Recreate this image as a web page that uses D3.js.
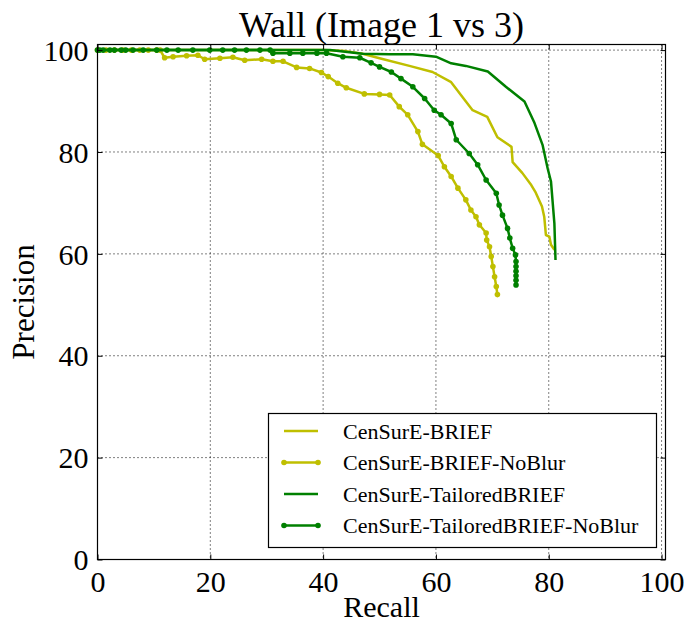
<!DOCTYPE html>
<html>
<head>
<meta charset="utf-8">
<script src="https://cdn.jsdelivr.net/npm/d3@7"></script>
<style>
  html, body { margin: 0; padding: 0; background: #fff; }
  svg { display: block; }
</style>
</head>
<body>
<svg id="chart" width="686" height="623"></svg>
<script>
// Precision / recall curves for the wall sequence (image 1 vs 3)
const seriesNames = [
  "CenSurE-BRIEF",
  "CenSurE-BRIEF-NoBlur",
  "CenSurE-TailoredBRIEF",
  "CenSurE-TailoredBRIEF-NoBlur"
];
const seriesColors = ["#bfbf00", "#bfbf00", "#008000", "#008000"];
const seriesMarkers = [false, true, false, true];

const briefRecall = [0, 40, 44, 47, 50, 55.3, 59.4, 62.7, 64.7, 66.5, 69.1, 70.9, 73.4, 73.6, 75.3, 76.9, 77.7, 78.8, 79.2, 79.5, 80.1, 80.4, 81.0];
const briefPrecision = [100, 100, 99.8, 99.3, 98.4, 96.9, 95.7, 93.7, 90.8, 88.2, 86.9, 82.9, 81.0, 78.0, 75.9, 73.5, 72.0, 69.3, 67.3, 63.7, 63.4, 61.8, 60.8];

const briefNoBlurRecall = [0, 1.5, 3, 4.5, 6, 7.5, 9, 10.5, 11.1, 11.9, 13.4, 15.8, 17.8, 19.0, 21.7, 24.0, 26.1, 29.1, 31.1, 32.9, 35.3, 37.6, 39.7, 40.9, 42.6, 44.1, 47.3, 50.0, 51.8, 53.5, 55.0, 56.8, 57.6, 60.4, 61.5, 62.7, 63.9, 65.3, 66.2, 67.1, 67.7, 68.9, 69.0, 69.5, 69.8, 70.1, 70.4, 70.7, 70.9];
const briefNoBlurPrecision = [100, 100, 100, 100, 100, 100, 100, 100, 100, 98.5, 98.7, 98.9, 99.0, 98.2, 98.4, 98.6, 98.0, 98.2, 97.8, 97.8, 96.6, 96.4, 95.6, 94.8, 93.5, 92.6, 91.4, 91.3, 91.2, 88.9, 87.3, 84.0, 81.5, 79.3, 77.1, 75.2, 72.9, 70.6, 68.6, 67.3, 65.7, 64.1, 62.7, 61.4, 59.5, 57.5, 55.5, 53.6, 52.0];

const tailoredRecall = [0, 41.2, 47.0, 51.8, 55.9, 60.0, 62.7, 65.3, 69.2, 72.4, 75.7, 77.4, 78.9, 79.8, 80.4, 81.0, 81.2];
const tailoredPrecision = [100, 100, 99.3, 99.2, 99.2, 98.7, 97.4, 96.9, 95.8, 92.8, 89.9, 85.9, 81.4, 76.8, 74.2, 66.0, 58.8];

const tailoredNoBlurRecall = [0, 0.4, 1, 2.2, 3, 4.2, 5, 6.3, 8.1, 10.5, 12.3, 14.3, 16.9, 19.9, 22.2, 24.3, 26.4, 28.8, 30.6, 31.1, 34.1, 36.4, 38.9, 40.6, 43.5, 46.5, 48.5, 50.0, 52.1, 53.8, 55.9, 58.0, 59.7, 60.9, 62.7, 63.6, 65.9, 67.4, 68.9, 70.7, 71.2, 71.8, 72.7, 73.1, 73.6, 74.1, 74.2, 74.2, 74.2, 74.2, 74.2, 74.2];
const tailoredNoBlurPrecision = [100, 100, 100, 100, 100, 100, 100, 100, 100, 100, 100, 100, 100, 100, 100, 100, 100, 100, 100, 99.4, 99.4, 99.4, 99.4, 99.4, 98.7, 98.5, 97.5, 96.7, 95.7, 94.4, 92.8, 90.5, 88.2, 87.3, 85.6, 82.4, 79.7, 77.5, 74.5, 71.9, 69.6, 67.6, 65.0, 63.1, 61.1, 59.8, 58.5, 57.5, 56.6, 55.7, 54.8, 53.9];

const xTicks = [0, 20, 40, 60, 80, 100];
const yTicks = [0, 20, 40, 60, 80, 100];

const serif = "'Liberation Serif', 'Times New Roman', Times, 'DejaVu Serif', serif";

const series = [
  { recall: briefRecall, precision: briefPrecision },
  { recall: briefNoBlurRecall, precision: briefNoBlurPrecision },
  { recall: tailoredRecall, precision: tailoredPrecision },
  { recall: tailoredNoBlurRecall, precision: tailoredNoBlurPrecision }
].map((s, i) => ({
  name: seriesNames[i],
  color: seriesColors[i],
  markers: seriesMarkers[i],
  points: s.recall.map((r, j) => [r, s.precision[j]])
}));

const svg = d3.select("#chart");
const plotLeft = 97.5, plotRight = 665.5, plotTop = 44.5, plotBottom = 559.5;
const lineWidth = 2.5, markerRadius = 2.8;

const x = d3.scaleLinear().domain([0, 100.7]).range([plotLeft, plotRight]);
const y = d3.scaleLinear().domain([0, 101.1]).range([plotBottom, plotTop]);

// dotted grid
const grid = svg.append("g");
xTicks.forEach(t => {
  grid.append("line")
    .attr("x1", x(t)).attr("x2", x(t)).attr("y1", plotTop).attr("y2", plotBottom)
    .attr("stroke", "#000").attr("stroke-width", 1).attr("stroke-dasharray", "1,3");
});
yTicks.forEach(t => {
  grid.append("line")
    .attr("x1", plotLeft).attr("x2", plotRight).attr("y1", y(t)).attr("y2", y(t))
    .attr("stroke", "#000").attr("stroke-width", 1).attr("stroke-dasharray", "1,3");
});

// curves
const plot = svg.append("g");
const line = d3.line().x(d => x(d[0])).y(d => y(d[1]));
series.forEach(s => {
  plot.append("path")
    .datum(s.points)
    .attr("d", line)
    .attr("fill", "none")
    .attr("stroke", s.color)
    .attr("stroke-width", lineWidth)
    .attr("stroke-linejoin", "round");
  if (s.markers) {
    plot.selectAll(null)
      .data(s.points)
      .enter().append("circle")
      .attr("cx", d => x(d[0]))
      .attr("cy", d => y(d[1]))
      .attr("r", markerRadius)
      .attr("fill", s.color);
  }
});

// axes with inward ticks on all four sides
const tickLen = 5;
const axBottom = svg.append("g").attr("transform", `translate(0,${plotBottom})`)
  .call(d3.axisBottom(x).tickValues(xTicks).tickSize(-tickLen).tickPadding(10).tickFormat(d3.format("d")));
const axTop = svg.append("g").attr("transform", `translate(0,${plotTop})`)
  .call(d3.axisTop(x).tickValues(xTicks).tickSize(-tickLen).tickFormat(""));
const axLeft = svg.append("g").attr("transform", `translate(${plotLeft},0)`)
  .call(d3.axisLeft(y).tickValues(yTicks).tickSize(-tickLen).tickPadding(9).tickFormat(d3.format("d")));
const axRight = svg.append("g").attr("transform", `translate(${plotRight},0)`)
  .call(d3.axisRight(y).tickValues(yTicks).tickSize(-tickLen).tickFormat(""));

[axBottom, axTop, axLeft, axRight].forEach(a => {
  a.attr("font-family", serif);
  a.select(".domain").remove();
  a.selectAll(".tick line").attr("stroke", "#000").attr("stroke-width", 1);
  a.selectAll("text").attr("font-family", serif).attr("font-size", 30).attr("fill", "#000");
});
axBottom.selectAll("text").attr("dy", "0.76em");
axLeft.selectAll("text").attr("dy", "0.34em");

// frame
svg.append("rect")
  .attr("x", plotLeft).attr("y", plotTop)
  .attr("width", plotRight - plotLeft).attr("height", plotBottom - plotTop)
  .attr("fill", "none").attr("stroke", "#000").attr("stroke-width", 1.2);

// title and axis labels
svg.append("text")
  .attr("x", (plotLeft + plotRight) / 2).attr("y", 37)
  .attr("text-anchor", "middle").attr("font-family", serif).attr("font-size", 36)
  .text("Wall (Image 1 vs 3)");
svg.append("text")
  .attr("x", (plotLeft + plotRight) / 2).attr("y", 617)
  .attr("text-anchor", "middle").attr("font-family", serif).attr("font-size", 30)
  .text("Recall");
svg.append("text")
  .attr("transform", `translate(34,${(plotTop + plotBottom) / 2}) rotate(-90)`)
  .attr("text-anchor", "middle").attr("font-family", serif).attr("font-size", 31)
  .text("Precision");

// legend
const legend = svg.append("g");
legend.append("rect")
  .attr("x", 268.5).attr("y", 413.5).attr("width", 388).attr("height", 134)
  .attr("fill", "#fff").attr("stroke", "#000").attr("stroke-width", 1.2);
const rowY = [431, 462.5, 494, 525.5];
series.forEach((s, i) => {
  const g = legend.append("g").attr("transform", `translate(0,${rowY[i]})`);
  g.append("line")
    .attr("x1", 284).attr("x2", 318).attr("y1", 0).attr("y2", 0)
    .attr("stroke", s.color).attr("stroke-width", lineWidth);
  if (s.markers) {
    [284, 318].forEach(cx => g.append("circle").attr("cx", cx).attr("cy", 0).attr("r", markerRadius).attr("fill", s.color));
  }
  g.append("text")
    .attr("x", 343).attr("y", 0).attr("dy", "0.35em")
    .attr("font-family", serif).attr("font-size", 22)
    .text(s.name);
});
</script>
</body>
</html>
